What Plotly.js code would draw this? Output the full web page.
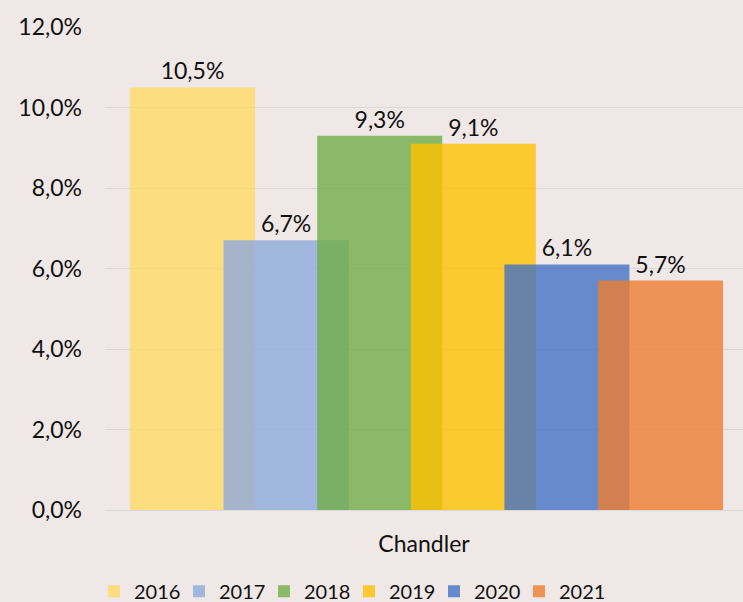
<!DOCTYPE html>
<html>
<head>
<meta charset="utf-8">
<script src="https://cdn.plot.ly/plotly-3.0.1.min.js"></script>
<style>
html,body{margin:0;padding:0;background:#EFE8E6;}
#chart{width:743px;height:602px;}
</style>
</head>
<body>
<div id="chart"></div>
<script>
var category = ["Chandler"];
var years = ["2016", "2017", "2018", "2019", "2020", "2021"];
var values = [0.105, 0.067, 0.093, 0.091, 0.061, 0.057];
var colors = ["#FFD966", "#8FAADC", "#70AD47", "#FFC000", "#4472C4", "#ED7D31"];

var barWidth = 0.196;
var firstOffset = -0.4608;
var step = 0.1467;
var fillAlpha = 0.8;

function withAlpha(hex, a) {
  var r = parseInt(hex.slice(1, 3), 16);
  var g = parseInt(hex.slice(3, 5), 16);
  var b = parseInt(hex.slice(5, 7), 16);
  return "rgba(" + r + "," + g + "," + b + "," + a + ")";
}

var traces = years.map(function (yr, i) {
  return {
    type: "bar",
    name: yr,
    x: category,
    y: [values[i]],
    width: [barWidth],
    offset: [firstOffset + i * step],
    marker: { color: withAlpha(colors[i], fillAlpha), line: { width: 0 } },
    texttemplate: "%{y:.1%}",
    textposition: "outside",
    cliponaxis: false,
    textfont: { family: "Lato, 'Liberation Sans', sans-serif", size: 23, color: "#111111" },
    hoverinfo: "skip"
  };
});

var layout = {
  width: 743,
  height: 602,
  barmode: "overlay",
  separators: ", ",
  paper_bgcolor: "#EFE8E6",
  plot_bgcolor: "rgba(0,0,0,0)",
  margin: { l: 105, r: 0, t: 27, b: 92 },
  font: { family: "Lato, 'Liberation Sans', sans-serif", size: 23, color: "#111111" },
  xaxis: {
    type: "category",
    range: [-0.5, 0.5],
    showgrid: false,
    zeroline: false,
    showline: false,
    ticks: "",
    ticklabelstandoff: 18,
    tickfont: { size: 23, color: "#111111" }
  },
  yaxis: {
    range: [0, 0.12],
    dtick: 0.02,
    tickformat: ".1%",
    showgrid: true,
    gridcolor: "#D9D9D9",
    gridwidth: 1,
    zeroline: true,
    zerolinecolor: "#D9D9D9",
    zerolinewidth: 1,
    showline: false,
    ticks: "",
    ticklabelstandoff: 22,
    tickfont: { size: 23, color: "#111111" }
  },
  showlegend: true,
  legend: {
    orientation: "h",
    xref: "container",
    x: 0.1265,
    xanchor: "left",
    yref: "container",
    y: 0.018,
    yanchor: "middle",
    entrywidth: 40,
    entrywidthmode: "pixels",
    font: { size: 20, color: "#111111" },
    bgcolor: "rgba(0,0,0,0)",
    itemclick: false
  }
};

Plotly.newPlot("chart", traces, layout, { displayModeBar: false, staticPlot: true });
</script>
</body>
</html>
